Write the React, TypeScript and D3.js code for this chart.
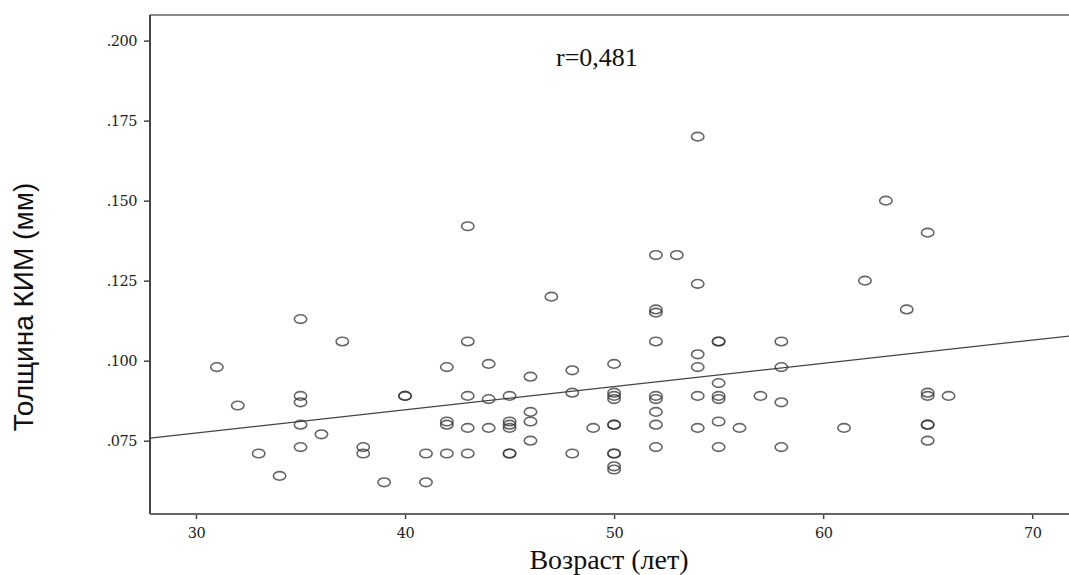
import React, { useEffect, useRef } from "react";
import * as d3 from "d3";

// возраст (лет) для каждой точки
const ages = [
  31, 32, 33, 34,
  35, 35, 35, 35, 35,
  36, 37, 38, 38, 39, 40, 40, 41, 41,
  42, 42, 42, 42,
  43, 43, 43, 43, 43,
  44, 44, 44,
  45, 45, 45, 45, 45, 45,
  46, 46, 46, 46,
  47, 48, 48, 48, 49,
  50, 50, 50, 50, 50, 50, 50, 50, 50, 50,
  52, 52, 52, 52, 52, 52, 52, 52, 52,
  53,
  54, 54, 54, 54, 54, 54,
  55, 55, 55, 55, 55, 55, 55,
  56, 57,
  58, 58, 58, 58,
  61, 62, 63, 64,
  65, 65, 65, 65, 65, 65,
  66,
];

// толщина КИМ (мм)
const thickness = [
  0.098, 0.086, 0.071, 0.064,
  0.113, 0.089, 0.087, 0.08, 0.073,
  0.077, 0.106, 0.073, 0.071, 0.062, 0.089, 0.089, 0.071, 0.062,
  0.098, 0.081, 0.08, 0.071,
  0.142, 0.106, 0.089, 0.079, 0.071,
  0.099, 0.088, 0.079,
  0.089, 0.081, 0.08, 0.079, 0.071, 0.071,
  0.095, 0.084, 0.081, 0.075,
  0.12, 0.097, 0.09, 0.071, 0.079,
  0.099, 0.09, 0.089, 0.088, 0.08, 0.08, 0.071, 0.071, 0.067, 0.066,
  0.133, 0.116, 0.115, 0.106, 0.089, 0.088, 0.084, 0.08, 0.073,
  0.133,
  0.17, 0.124, 0.102, 0.098, 0.089, 0.079,
  0.106, 0.106, 0.093, 0.089, 0.088, 0.081, 0.073,
  0.079, 0.089,
  0.106, 0.098, 0.087, 0.073,
  0.079, 0.125, 0.15, 0.116,
  0.14, 0.09, 0.089, 0.08, 0.08, 0.075,
  0.089,
];

const xTicks = [30, 40, 50, 60, 70];
const yTicks = [0.075, 0.1, 0.125, 0.15, 0.175, 0.2];

// линия регрессии: y = a + b * x
const fitIntercept = 0.0556;
const fitSlope = 0.000726;

const App = () => {
  const svgRef = useRef<SVGSVGElement>(null);

  useEffect(() => {
    const width = 1069;
    const height = 575;
    const left = 150;
    const top = 15;
    const bottom = 514;

    const svg = d3.select(svgRef.current);
    svg.selectAll("*").remove();
    svg.attr("width", width).attr("height", height);

    const x = d3.scaleLinear().domain([27.8, 72]).range([left, 1074]);
    const y = d3.scaleLinear().domain([0.0521, 0.208]).range([bottom, top]);

    // рамка сверху
    svg
      .append("line")
      .attr("x1", left)
      .attr("x2", width)
      .attr("y1", top)
      .attr("y2", top)
      .attr("stroke", "#8a8a8a")
      .attr("stroke-width", 2);

    // ось Y
    const yAxis = svg
      .append("g")
      .attr("transform", `translate(${left},0)`)
      .call(
        d3
          .axisLeft(y)
          .tickValues(yTicks)
          .tickSize(6)
          .tickPadding(7)
          .tickFormat((d) => d3.format(".3f")(d as number).replace(/^0/, ""))
      );
    yAxis.select(".domain").remove();
    yAxis
      .append("line")
      .attr("x1", 0)
      .attr("x2", 0)
      .attr("y1", top)
      .attr("y2", bottom)
      .attr("stroke", "#444")
      .attr("stroke-width", 2);
    yAxis.selectAll(".tick line").attr("stroke", "#444").attr("stroke-width", 1.5);
    yAxis
      .selectAll(".tick text")
      .attr("font-family", "'DejaVu Serif', serif")
      .attr("font-size", 14.5)
      .attr("letter-spacing", -0.5)
      .attr("fill", "#222");

    // ось X
    const xAxis = svg
      .append("g")
      .attr("transform", `translate(0,${bottom})`)
      .call(d3.axisBottom(x).tickValues(xTicks).tickSize(5).tickPadding(9));
    xAxis.select(".domain").remove();
    xAxis
      .append("line")
      .attr("x1", left)
      .attr("x2", width)
      .attr("y1", 0)
      .attr("y2", 0)
      .attr("stroke", "#666")
      .attr("stroke-width", 2);
    xAxis.selectAll(".tick line").attr("stroke", "#444").attr("stroke-width", 1.5);
    xAxis
      .selectAll(".tick text")
      .attr("font-family", "'DejaVu Serif', serif")
      .attr("font-size", 14.5)
      .attr("letter-spacing", -0.5)
      .attr("fill", "#222");

    // линия регрессии
    const [x0, x1] = x.domain();
    svg
      .append("path")
      .datum([x0, x1])
      .attr("fill", "none")
      .attr("stroke", "#444")
      .attr("stroke-width", 1.3)
      .attr(
        "d",
        d3
          .line<number>()
          .x((d) => x(d))
          .y((d) => y(fitIntercept + fitSlope * d))
      );

    // точки
    const points = ages.map((a, i) => ({ age: a, value: thickness[i] }));
    svg
      .append("g")
      .selectAll("ellipse")
      .data(points)
      .join("ellipse")
      .attr("cx", (d) => x(d.age))
      .attr("cy", (d) => y(d.value))
      .attr("rx", 6.2)
      .attr("ry", 4.3)
      .attr("fill", "none")
      .attr("stroke", "#333")
      .attr("stroke-opacity", 0.75)
      .attr("stroke-width", 1.6);

    // коэффициент корреляции
    svg
      .append("text")
      .attr("x", 556)
      .attr("y", 66)
      .attr("font-family", "'Liberation Serif', 'Times New Roman', serif")
      .attr("font-size", 26)
      .attr("fill", "#111")
      .text("r=0,481");

    // подписи осей
    svg
      .append("text")
      .attr("x", 609)
      .attr("y", 569)
      .attr("text-anchor", "middle")
      .attr("font-family", "'Liberation Serif', 'Times New Roman', serif")
      .attr("font-size", 28)
      .attr("fill", "#111")
      .text("Возраст (лет)");

    svg
      .append("text")
      .attr("transform", `translate(33,307) rotate(-90)`)
      .attr("text-anchor", "middle")
      .attr("font-family", "'Liberation Sans', Arial, sans-serif")
      .attr("font-size", 28)
      .attr("fill", "#111")
      .text("Толщина КИМ (мм)");
  }, []);

  return (
    <div style={{ position: "absolute", left: 0, top: 0, background: "#fff" }}>
      <svg ref={svgRef} style={{ display: "block" }}></svg>
    </div>
  );
};

export default App;
